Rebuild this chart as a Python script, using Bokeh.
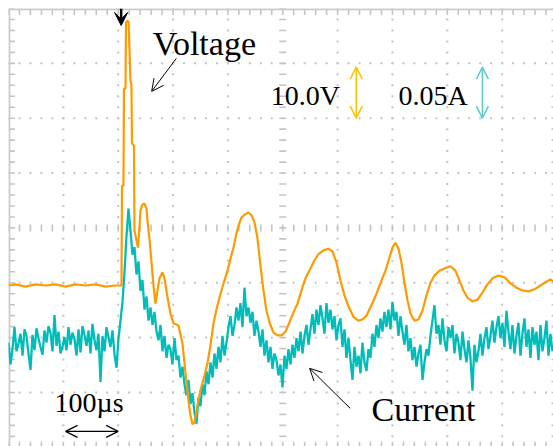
import numpy as np
from bokeh.plotting import figure
from bokeh.models import Range1d, Arrow, OpenHead, VeeHead, Label
from bokeh.embed import file_html
from bokeh.resources import INLINE

# ---------------- scope settings ----------------
TIME_PER_DIV_US = 100.0      # 100 µs / div
VOLT_PER_DIV = 10.0          # 10.0 V / div
MA_PER_DIV = 50.0            # 0.05 A / div
V_OFFSET_DIV = -1.05         # channel ground positions (divisions from centre)
I_OFFSET_DIV = -2.05

# ---------------- data ----------------
voltage_t_us = [0, 12.8, 31.0, 49.2, 67.5, 85.7, 103.9, 122.1, 140.4, 158.6,
                176.8, 195.1, 206.0, 206.9, 209.6, 210.5, 213.3, 214.2, 216.9, 218.8,
                219.7, 222.4, 224.2, 225.1, 228.8, 229.7, 233.3, 236.1, 238.8, 240.6,
                244.3, 247.9, 251.6, 253.4, 257.0, 260.7, 264.3, 268.0, 271.6, 275.3,
                280.7, 284.4, 289.9, 295.3, 300.8, 309.9, 317.2, 322.7, 328.1, 331.8,
                335.4, 339.1, 344.5, 350.0, 357.3, 362.8, 368.2, 373.7, 381.0, 386.5,
                393.7, 399.2, 404.7, 410.2, 415.6, 419.3, 424.8, 430.2, 437.5, 443.0,
                448.5, 453.9, 459.4, 464.9, 470.3, 475.8, 483.1, 490.4, 497.7, 505.0,
                512.3, 519.6, 526.8, 534.1, 541.4, 550.5, 557.8, 565.1, 574.2, 583.4,
                590.7, 598.0, 605.2, 612.5, 619.8, 628.9, 638.1, 645.4, 652.6, 661.7,
                670.9, 680.0, 687.3, 694.6, 700.0, 705.5, 711.0, 716.4, 721.9, 727.4,
                732.8, 740.1, 747.4, 754.7, 762.0, 769.3, 776.5, 785.6, 794.8, 805.7,
                814.8, 822.2, 829.4, 836.7, 845.8, 855.0, 864.1, 873.2, 882.3, 893.3,
                904.2, 915.1, 926.1, 937.0, 948.0, 958.9, 969.8, 980.8, 988.0, 993.5]
voltage_v = [0, 0.2, -0.2, 0.2, 0, 0.2, -0.2, 0.2, 0, 0.2,
             -0.2, 0, 0, 18.2, 18.2, 35.9, 35.9, 47.9, 48.3, 48.1,
             45.6, 37.4, 36.5, 25.9, 25.5, 10.0, 8.2, 6.9, 10.9, 13.7,
             14.8, 14.9, 14.0, 11.8, 8.6, 4.2, 0.0, -3.3, -0.9, 1.3,
             2.4, 1.3, -2.2, -5.1, -6.9, -7.3, -10.6, -16.0, -21.0, -23.7,
             -25.3, -25.0, -21.9, -19.1, -16.4, -14.2, -10.9, -6.9, -3.6, -1.5,
             0.9, 2.7, 4.9, 6.9, 9.5, 10.9, 12.4, 12.9, 13.3, 12.8,
             11.5, 8.6, 3.6, -0.9, -4.6, -6.7, -8.6, -9.1, -9.1, -8.4,
             -6.7, -4.9, -3.3, -0.9, 1.3, 3.1, 4.6, 5.7, 6.4, 6.7,
             6.2, 4.2, 0.9, -1.8, -3.8, -5.7, -6.4, -6.2, -5.5, -3.6,
             -1.5, 0.9, 2.7, 5.1, 6.9, 7.8, 6.7, 4.2, 0.5, -2.7,
             -5.1, -6.4, -6.2, -4.6, -1.8, 0.5, 1.8, 2.7, 3.1, 3.5,
             2.7, 0.9, -0.9, -2.2, -2.9, -2.6, -1.3, 0.2, 1.3, 1.8,
             1.5, 0.4, -0.4, -0.9, -1.1, -0.7, 0.0, 0.7, 1.1, 0.7]

CURRENT_DT_US = 3.646        # sample interval of the current record
current_ma = [-2, -22, -8, 12, -10, -3, 6, -14, 10, 4,
              -12, -27, 5, -9, 11, 2, -6, -13, 9, -2,
              13, 7, -10, 23, -5, 8, -12, -6, 3, -9,
              12, -4, 7, 1, -14, 10, -11, 13, 5, -5,
              9, -12, 15, 0, -9, 6, -38, 4, -10, 12,
              3, -6, 9, -13, -25, 2,
              18, 35, 62, 95, 120,
              100, 78, 85, 60, 72, 45, 55, 28, 40, 18,
              30, 14, 26, 8, 0, 14, -10, 4, -16, -4,
              -8, -22, 2, -18, -14, -34, -24, -40, -50, -36,
              -58, -48, -66, -76, -52, -60, -40, -50, -28, -40,
              -20, -34, -12, -26, -6, -20, 4, -14, -2, 12,
              22, 4, 14, 30, 18, 34, 12, 48, 22, 30,
              16, 26, 4, 18, 8, -6, 10, -14, 0, -20,
              -6, -26, -12, -18, -32, -22, -43, -14, -26, -8,
              -22, -4, -16, 2, -10, 8, -12, 4, 14, -4,
              10, 24, 6, 28, 14, 32, 20, 6, 34, 16,
              28, 10, 22, 0, 14, 20, -6, 10, -16, 2,
              -18, -36, -6, -24, -14, -30, -2, -20, -28, -8,
              -16, 6, -6, 14, 2, 20, 8, 26, 12, 28,
              10, 35, 18, 26, 4, 22, 8, -4, 14, -10,
              2, -18, -6, -24, -12, -4, -36, -20, -8, -14,
              4, 18, 32, 6, 14, -4, 20, 0, -10, 12,
              2, 14, -12, 6, -2, -18, 8, -8, -20, 0,
              -16, -46, -4, -20, -10, 6, -14, 2, 12, -8,
              4, 18, -2, 12, 22, 2, 16, -6, 27, 8,
              -8, 14, -12, 4, 16, -14, 6, 20, -6, 10,
              -16, 12, -4, 8, -18, 14, -10, 2, 18, -14,
              6, -10]
current_t_us = np.arange(len(current_ma)) * CURRENT_DT_US

# ---------------- layout ----------------
PAD = 8                      # white strip before the graticule (left / top)
W, H = 553, 446
FW, FH = W - PAD, H - PAD
DIV_PX = 54.85
X_END = FW / DIV_PX * TIME_PER_DIV_US
Y_BOT = 4 - FH / DIV_PX

p = figure(width=W, height=H, output_backend="svg", toolbar_location=None,
           x_range=Range1d(0, X_END), y_range=Range1d(Y_BOT, 4),
           x_axis_location=None, y_axis_location=None,
           min_border_left=PAD, min_border_top=PAD, min_border_right=0, min_border_bottom=0,
           background_fill_color="white", border_fill_color="white")
p.grid.visible = False
p.outline_line_color = None
p.extra_y_ranges = {
    "volt": Range1d((Y_BOT - V_OFFSET_DIV) * VOLT_PER_DIV, (4 - V_OFFSET_DIV) * VOLT_PER_DIV),
    "amp": Range1d((Y_BOT - I_OFFSET_DIV) * MA_PER_DIV, (4 - I_OFFSET_DIV) * MA_PER_DIV),
}

GRID = "#c4c4c4"
us_px = TIME_PER_DIV_US / DIV_PX
div_px = 1.0 / DIV_PX

# dotted graticule
minor_y = np.arange(-4, 4.001, 0.2)
minor_x = np.arange(0, 10.001, 0.2) * TIME_PER_DIV_US
dx, dy = [], []
for k in [1, 2, 3, 4, 6, 7, 8, 9]:
    dx += [k * TIME_PER_DIV_US] * len(minor_y)
    dy += list(minor_y)
for j in [-3, -2, -1, 1, 2, 3]:
    dx += list(minor_x)
    dy += [j] * len(minor_x)
p.scatter(dx, dy, marker="square", size=2, fill_color=GRID, line_color=None)

# centre cross ticks
p.scatter([5 * TIME_PER_DIV_US] * len(minor_y), minor_y, marker="dash", size=7,
          line_color=GRID, line_width=1.6)
p.scatter(minor_x, [0] * len(minor_x), marker="dash", size=7, angle=np.pi / 2,
          line_color=GRID, line_width=1.6)
# border ticks
p.scatter(minor_x, [4 - 3.5 * div_px] * len(minor_x), marker="dash", size=6,
          angle=np.pi / 2, line_color=GRID, line_width=1.6)
p.scatter(minor_x, [-4 + 2.5 * div_px] * len(minor_x), marker="dash", size=6,
          angle=np.pi / 2, line_color=GRID, line_width=1.6)
p.scatter([3.5 * us_px] * len(minor_y), minor_y, marker="dash", size=6,
          line_color=GRID, line_width=1.6)
p.scatter([10 * TIME_PER_DIV_US - 2.5 * us_px] * len(minor_y), minor_y, marker="dash",
          size=6, line_color=GRID, line_width=1.6)
# top and left borders
p.line([0, X_END], [4 - 0.8 * div_px] * 2, line_color="#c8c8c8", line_width=2)
p.line([0.8 * us_px] * 2, [Y_BOT, 4], line_color="#c8c8c8", line_width=2)

# traces
p.line(current_t_us, current_ma, y_range_name="amp", line_color="#00BDBA", line_width=2.3)
p.line(voltage_t_us, voltage_v, y_range_name="volt", line_color="#FF9A00", line_width=2.2)

# annotations
FONT = "Liberation Serif"
p.add_layout(Label(x=263, y=3.36, text="Voltage", text_font=FONT, text_font_size="34px",
                   text_baseline="alphabetic", text_color="black"))
p.add_layout(Label(x=662, y=-3.31, text="Current", text_font=FONT, text_font_size="34px",
                   text_baseline="alphabetic", text_color="black"))
p.add_layout(Label(x=84, y=-3.19, text="100µs", text_font=FONT, text_font_size="28px",
                   text_baseline="alphabetic", text_color="black"))
p.add_layout(Label(x=478, y=2.41, text="10.0V", text_font=FONT, text_font_size="28px",
                   text_baseline="alphabetic", text_color="black"))
p.add_layout(Label(x=711, y=2.41, text="0.05A", text_font=FONT, text_font_size="28px",
                   text_baseline="alphabetic", text_color="black"))

p.add_layout(Arrow(end=OpenHead(size=12, line_width=1, line_color="black"),
                   x_start=306, y_start=3.09, x_end=261, y_end=2.49,
                   line_width=1, line_color="black"))
p.add_layout(Arrow(end=OpenHead(size=12, line_width=1, line_color="black"),
                   x_start=623, y_start=-3.29, x_end=549, y_end=-2.56,
                   line_width=1, line_color="black"))
p.add_layout(Arrow(start=OpenHead(size=12, line_width=1.2, line_color="black"),
                   end=OpenHead(size=12, line_width=1.2, line_color="black"),
                   x_start=104, y_start=-3.71, x_end=200, y_end=-3.71,
                   line_width=1.2, line_color="black"))
p.add_layout(Arrow(start=OpenHead(size=12, line_width=1.5, line_color="#FFC000"),
                   end=OpenHead(size=12, line_width=1.5, line_color="#FFC000"),
                   x_start=634, y_start=2.93, x_end=634, y_end=2.0,
                   line_width=1.5, line_color="#FFC000"))
p.add_layout(Arrow(start=OpenHead(size=12, line_width=1.5, line_color="#5CCDCD"),
                   end=OpenHead(size=12, line_width=1.5, line_color="#5CCDCD"),
                   x_start=864, y_start=2.93, x_end=864, y_end=2.0,
                   line_width=1.5, line_color="#5CCDCD"))
# trigger marker
p.add_layout(Arrow(end=VeeHead(size=13, fill_color="black", line_color="black"),
                   x_start=205.4, y_start=4.0, x_end=205.4, y_end=3.69,
                   line_width=2.5, line_color="black"))

open("out.html", "w").write(file_html(p, INLINE))
